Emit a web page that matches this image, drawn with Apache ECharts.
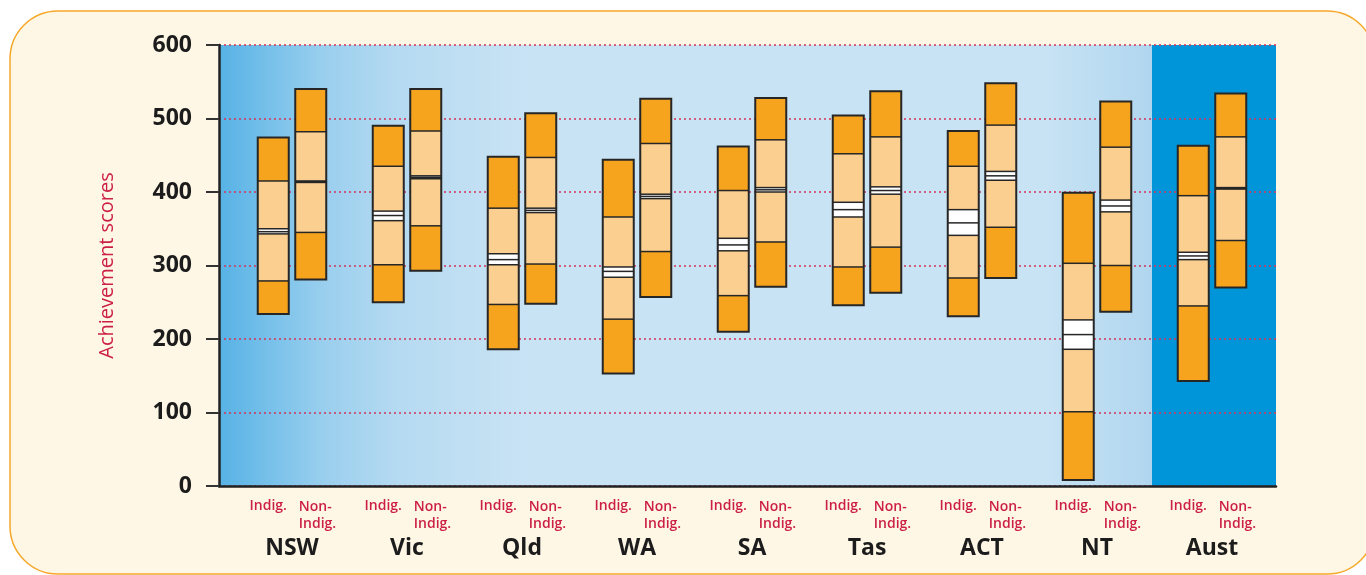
<!DOCTYPE html>
<html>
<head>
<meta charset="utf-8">
<script src="https://cdn.jsdelivr.net/npm/echarts@6/dist/echarts.min.js"></script>
<style>
html,body{margin:0;padding:0;background:#ffffff;}
#chart{width:1366px;height:575px;}
</style>
</head>
<body>
<div id="chart"></div>
<script>
// ---- data ----
const states = ['NSW','Vic','Qld','WA','SA','Tas','ACT','NT','Aust'];
const groupLabels = ['Indig.', 'Non-\nIndig.'];
const yTicks = [0,100,200,300,400,500,600];

// Indigenous students: percentiles and mean with confidence interval
const indigP5     = [234, 250, 186, 153, 210, 246, 231,   8, 143];
const indigP25    = [279, 301, 247, 227, 259, 298, 283, 101, 245];
const indigCiLow  = [343, 361, 301, 284, 320, 366, 341, 186, 308];
const indigMean   = [346, 368, 308, 292, 328, 376, 358, 206, 313];
const indigCiHigh = [350, 374, 316, 298, 337, 386, 376, 226, 318];
const indigP75    = [415, 435, 378, 366, 402, 452, 435, 303, 395];
const indigP95    = [474, 490, 448, 444, 462, 504, 483, 399, 463];

// Non-Indigenous students
const nonP5     = [281, 293, 248, 257, 271, 263, 283, 237, 270];
const nonP25    = [345, 354, 302, 319, 332, 325, 352, 300, 334];
const nonCiLow  = [413, 418, 372, 391, 400, 397, 416, 373, 404];
const nonMean   = [414, 420, 375, 394, 403, 402, 422, 381, 405];
const nonCiHigh = [415, 422, 378, 397, 406, 407, 428, 389, 406];
const nonP75    = [482, 483, 447, 466, 471, 475, 491, 461, 475];
const nonP95    = [540, 540, 507, 527, 528, 537, 548, 523, 534];

// ---- build series data ----
function build(p5,p25,lo,mean,hi,p75,p95){
  return states.map((s,i)=>[i,p5[i],p25[i],lo[i],mean[i],hi[i],p75[i],p95[i]]);
}
const indigData = build(indigP5,indigP25,indigCiLow,indigMean,indigCiHigh,indigP75,indigP95);
const nonData = build(nonP5,nonP25,nonCiLow,nonMean,nonCiHigh,nonP75,nonP95);

const DARK = '#f6a41e', LIGHT = '#fbcf90', EDGE = '#262626';
const FONT = '"Open Sans","Noto Sans",sans-serif';

function makeRender(offPx, labelKind){
  return function(params, api){
    const i = api.value(0);
    const v = [1,2,3,4,5,6,7].map(k=>api.value(k));
    const base = api.coord([i, 0]);
    const cx = base[0] + offPx;
    const w = 31;
    const x0 = cx - w/2;
    const y = val => api.coord([i, val])[1];
    const [p5,p25,lo,mean,hi,p75,p95] = v;
    const seg = (a,b,fill)=>({type:'rect', shape:{x:x0, y:y(b), width:w, height:y(a)-y(b)}, style:{fill:fill}});
    const line = (val,lw)=>({type:'line', shape:{x1:x0, y1:y(val), x2:x0+w, y2:y(val)}, style:{stroke:EDGE, lineWidth:lw||1.5}});
    const children = [
      seg(p5,p25,DARK), seg(p25,lo,LIGHT), seg(lo,hi,'#ffffff'), seg(hi,p75,LIGHT), seg(p75,p95,DARK),
      line(p25), line(lo), line(mean), line(hi), line(p75),
      {type:'rect', shape:{x:x0, y:y(p95), width:w, height:y(p5)-y(p95)}, style:{fill:null, stroke:EDGE, lineWidth:2}}
    ];
    const by = base[1];
    if(labelKind === 0){
      children.push({type:'text', style:{text:groupLabels[0], x:cx-5, y:by+13, align:'center', verticalAlign:'top',
        fill:'#cc1f45', font:'600 14px ' + FONT}});
      children.push({type:'text', style:{text:states[i], x:cx+18.75, y:by+51, align:'center', verticalAlign:'top',
        fill:'#1c1c1c', font:'bold 23px ' + FONT}});
    } else {
      children.push({type:'text', style:{text:groupLabels[1], x:cx-12, y:by+13, align:'left', verticalAlign:'top',
        fill:'#cc1f45', font:'600 14px ' + FONT, lineHeight:17}});
    }
    return {type:'group', children:children};
  };
}

const chart = echarts.init(document.getElementById('chart'), null, {renderer:'canvas'});
chart.setOption({
  backgroundColor:'#ffffff',
  animation:false,
  graphic:[{
    type:'rect', z:-10, silent:true,
    shape:{x:10, y:11, width:1365, height:563, r:48},
    style:{fill:'#fef7e6', stroke:'#f6a82a', lineWidth:1.5}
  }],
  grid:{left:219, right:90, top:45, bottom:89, show:true, borderWidth:0,
    backgroundColor:{type:'linear', x:0, y:0, x2:1, y2:0, colorStops:[
      {offset:0, color:'#56b2e5'},
      {offset:0.05, color:'#79c1ea'},
      {offset:0.1, color:'#9acfee'},
      {offset:0.17, color:'#b5daf1'},
      {offset:0.25, color:'#c3e0f3'},
      {offset:0.3, color:'#c8e3f4'},
      {offset:0.78, color:'#c8e3f4'},
      {offset:0.8826, color:'#b0d6ef'},
      {offset:0.8827, color:'#0094d8'},
      {offset:1, color:'#0094d8'}
    ]}
  },
  xAxis:{type:'value', min:-0.6348, max:8.5565,
    axisLine:{show:true, onZero:false, lineStyle:{color:'#222', width:2.5}},
    axisTick:{show:false}, axisLabel:{show:false}, splitLine:{show:false}},
  yAxis:{type:'value', min:yTicks[0], max:yTicks[yTicks.length-1], interval:100,
    name:'Achievement scores', nameLocation:'middle', nameRotate:90, nameGap:102,
    nameTextStyle:{color:'#cc1f45', fontSize:20, fontFamily:FONT},
    axisLine:{show:true, onZero:false, lineStyle:{color:'#222', width:2.5}},
    axisTick:{show:true, length:13, lineStyle:{color:'#333', width:2}},
    axisLabel:{margin:27, color:'#1c1c1c', fontSize:23, fontWeight:'bold', fontFamily:FONT},
    splitLine:{show:true, lineStyle:{color:'#d4345a', width:1.5, type:[2,3]}}
  },
  series:[
    {type:'custom', name:'Indig.', data:indigData, renderItem:makeRender(-18.75,0), clip:false, z:5,
      encode:{x:0, y:[1,7]}},
    {type:'custom', name:'Non-Indig.', data:nonData, renderItem:makeRender(18.75,1), clip:false, z:5,
      encode:{x:0, y:[1,7]}}
  ]
});
</script>
</body>
</html>
